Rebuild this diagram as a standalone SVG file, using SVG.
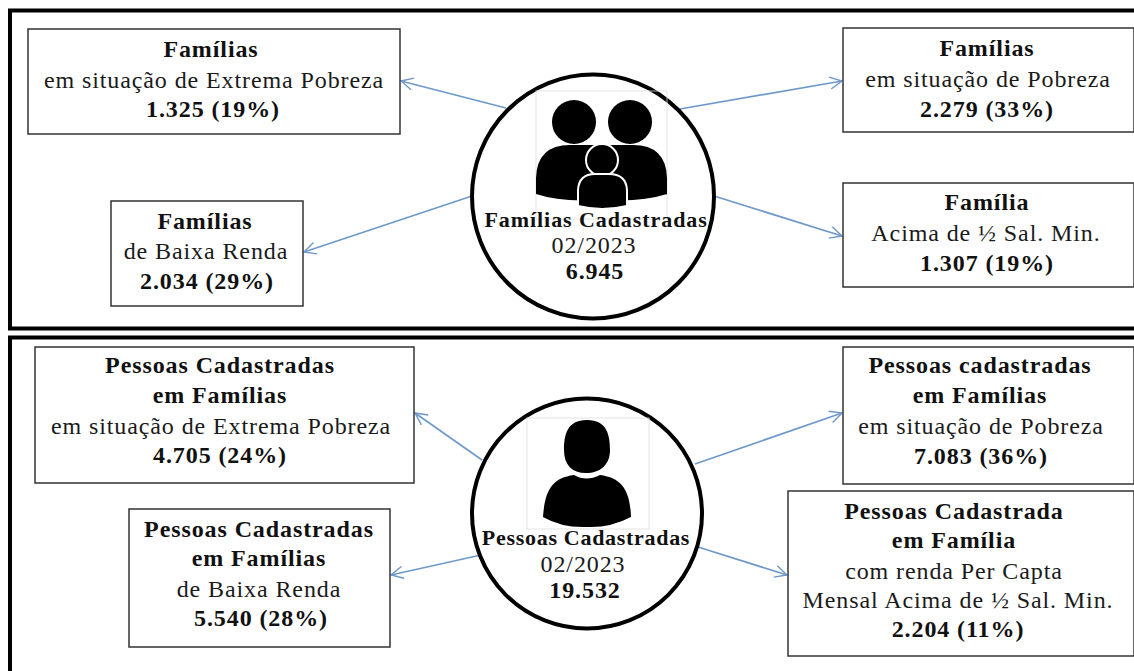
<svg xmlns="http://www.w3.org/2000/svg" width="1134" height="671" viewBox="0 0 1134 671">
<defs>
<marker id="ah" markerUnits="userSpaceOnUse" markerWidth="16" markerHeight="16" refX="13" refY="7" orient="auto"><path d="M1,1 L13,7 L1,13" fill="none" stroke="#6f97c8" stroke-width="1.4"/></marker>
</defs>
<style>
text{font-family:"Liberation Serif","Times New Roman",serif;font-size:24px;fill:#1a1a1a;text-anchor:middle;letter-spacing:.9px}
.b{font-weight:bold;fill:#111}
.h{font-size:22px;letter-spacing:.7px}
.box{fill:#fff;stroke:#333;stroke-width:1.5}
.frame{fill:none;stroke:#000;stroke-width:4}
.conn{fill:none;stroke:#7099cb;stroke-width:1.7;marker-end:url(#ah)}
.circ{fill:#fff;stroke:#000;stroke-width:4}
.pic{fill:none;stroke:#ddd;stroke-width:.8}
</style>
<rect width="1134" height="671" fill="#fff"/>
<g id="frames">
<path class="frame" d="M1136,10.500 H10 V328.500 H1136"/>
<path class="frame" d="M1136,337.500 H10 V673"/>
</g>
<g id="connectors">
<path class="conn" d="M506,108 L401,81"/>
<path class="conn" d="M680,109 L842,81"/>
<path class="conn" d="M472,196 L304,252"/>
<path class="conn" d="M714,196 L842,236"/>
<path class="conn" d="M482,460 L415,413"/>
<path class="conn" d="M695,464 L842,413"/>
<path class="conn" d="M481,555 L391,575"/>
<path class="conn" d="M698,547 L787,575"/>
</g>
<g id="n1"><rect class="box" x="28" y="29" width="372" height="105"/>
<text class="b" x="211" y="57">Famílias</text><text x="214" y="88">em situação de Extrema Pobreza</text><text class="b" x="213" y="117">1.325 (19%)</text></g>
<g id="n2"><rect class="box" x="843" y="28" width="291" height="104"/>
<text class="b" x="987" y="56">Famílias</text><text x="988" y="87">em situação de Pobreza</text><text class="b" x="987" y="117">2.279 (33%)</text></g>
<g id="n3"><rect class="box" x="111" y="201" width="192" height="105"/>
<text class="b" x="205" y="229">Famílias</text><text x="206" y="259">de Baixa Renda</text><text class="b" x="207" y="289">2.034 (29%)</text></g>
<g id="n4"><rect class="box" x="843" y="183" width="291" height="104"/>
<text class="b" x="987" y="210">Família</text><text x="986" y="241">Acima de ½ Sal. Min.</text><text class="b" x="987" y="271">1.307 (19%)</text></g>
<g id="hub1"><ellipse class="circ" cx="593" cy="196.500" rx="121" ry="122"/>
<rect class="pic" x="536" y="91" width="131" height="128"/>
<g fill="#000"><circle cx="574" cy="122" r="22"/><circle cx="630" cy="122" r="22"/>
<path d="M536,197 V178 Q537,145 570,145 H596 V200 Q560,202 536,194Z"/><path d="M667,197 V178 Q666,145 633,145 H606 V200 Q642,202 667,194Z"/></g>
<circle cx="602" cy="160" r="16" fill="#000" stroke="#fff" stroke-width="2"/>
<path d="M578,206 V190 Q579,174 595,174 H609 Q626,174 627,190 V206 Q602,212 578,206Z" fill="#000" stroke="#fff" stroke-width="2"/>
<text class="b h" x="596" y="227" textLength="223" lengthAdjust="spacing">Famílias  Cadastradas</text><text x="594" y="253">02/2023</text><text class="b" x="595" y="279">6.945</text></g>
<g id="n5"><rect class="box" x="35" y="347" width="379" height="136"/>
<text class="b" x="220" y="373">Pessoas Cadastradas</text><text class="b" x="220" y="403">em Famílias</text><text x="221" y="434">em situação de Extrema Pobreza</text><text class="b" x="220" y="463">4.705 (24%)</text></g>
<g id="n6"><rect class="box" x="843" y="347" width="291" height="137"/>
<text class="b" x="980" y="373">Pessoas cadastradas</text><text class="b" x="980" y="403">em Famílias</text><text x="981" y="434">em situação de Pobreza</text><text class="b" x="981" y="464">7.083 (36%)</text></g>
<g id="n7"><rect class="box" x="129" y="509" width="261" height="138"/>
<text class="b" x="259" y="537">Pessoas Cadastradas</text><text class="b" x="259" y="566">em Famílias</text><text x="259" y="597">de Baixa Renda</text><text class="b" x="261" y="626">5.540 (28%)</text></g>
<g id="n8"><rect class="box" x="788" y="491" width="346" height="165"/>
<text class="b" x="954" y="519">Pessoas Cadastrada</text><text class="b" x="954" y="548">em Família</text><text x="954" y="579">com renda Per Capta</text><text x="958" y="608">Mensal Acima de ½ Sal. Min.</text><text class="b" x="958" y="637">2.204 (11%)</text></g>
<g id="hub2"><ellipse class="circ" cx="587" cy="513.500" rx="115" ry="115"/>
<rect class="pic" x="527" y="418" width="122" height="111"/>
<path d="M587,420 C607,420 610,435 610,450 C610,465 600,473 586,473 C572,473 564,465 564,450 C564,435 567,420 587,420Z M574,475 Q586,482 600,475 C622,478 630,490 631,517 Q610,528 587,527 Q562,528 543,517 C545,490 552,478 574,475Z" fill="#000"/>
<text class="b h" x="586" y="545">Pessoas Cadastradas</text><text x="583" y="572">02/2023</text><text class="b" x="585" y="598">19.532</text></g>
</svg>
